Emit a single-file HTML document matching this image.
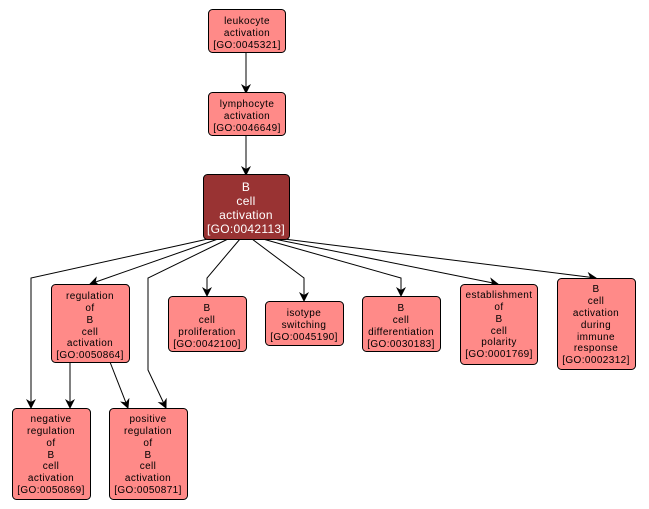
<!DOCTYPE html>
<html><head><meta charset="utf-8"><style>
html,body{margin:0;padding:0;background:#fff;}
svg{display:block;}
text{font-family:"Liberation Sans","DejaVu Sans",sans-serif;font-size:10px;fill:#000;text-anchor:middle;letter-spacing:0.4px;}
.w{fill:#fff;font-size:12px;letter-spacing:0.3px;}
</style></head><body>
<svg width="649" height="509" viewBox="0 0 649 509" xmlns="http://www.w3.org/2000/svg">
<defs><marker id="a" viewBox="0 0 10 10" refX="9" refY="5" markerWidth="10" markerHeight="10" markerUnits="userSpaceOnUse" orient="auto"><path d="M0,0 L10,5 L0,10 L3,5 z" fill="#000"/></marker></defs>
<g fill="none" stroke="#000" stroke-width="1" marker-end="url(#a)">
<line x1="246" y1="52" x2="246" y2="93"/>
<line x1="246" y1="135" x2="246" y2="175"/>
<polyline points="208,239 31,278 31,408"/>
<polyline points="218,239 90,284"/>
<polyline points="228,239 148,278 148,370 166,408"/>
<polyline points="240,239 207,278 207,296"/>
<polyline points="252,239 304,278 304,301"/>
<polyline points="263,239 401,278 401,296"/>
<polyline points="274,239 498,284"/>
<polyline points="284,239 596,278"/>
<line x1="70" y1="362" x2="70" y2="408"/>
<line x1="110" y1="362" x2="128" y2="408"/>
</g>
<g stroke="#000" stroke-width="1" fill="#ff8a88">
<rect x="208.5" y="9.5" width="77" height="43" rx="4"/>
<rect x="208.5" y="92.5" width="77" height="43" rx="4"/>
<rect x="203.5" y="174.5" width="86" height="65" rx="4" fill="#993333"/>
<rect x="51.5" y="284.5" width="78" height="78" rx="4"/>
<rect x="168.5" y="296.5" width="78" height="55" rx="4"/>
<rect x="265.5" y="301.5" width="78" height="44" rx="4"/>
<rect x="362.5" y="296.5" width="78" height="55" rx="4"/>
<rect x="460.5" y="284.5" width="77" height="80" rx="4"/>
<rect x="557.5" y="278.5" width="78" height="91" rx="4"/>
<rect x="12.5" y="408.5" width="78" height="91" rx="4"/>
<rect x="109.5" y="408.5" width="78" height="91" rx="4"/>
</g>
<text x="247" y="24">leukocyte</text><text x="247" y="36">activation</text><text x="247" y="48">[GO:0045321]</text>
<text x="247" y="107">lymphocyte</text><text x="247" y="119">activation</text><text x="247" y="131">[GO:0046649]</text>
<text class="w" x="246" y="191">B</text><text class="w" x="246" y="205">cell</text><text class="w" x="246" y="219">activation</text><text class="w" x="246" y="233">[GO:0042113]</text>
<text x="90" y="299">regulation</text><text x="90" y="311">of</text><text x="90" y="323">B</text><text x="90" y="335">cell</text><text x="90" y="346">activation</text><text x="90" y="358">[GO:0050864]</text>
<text x="207" y="311">B</text><text x="207" y="323">cell</text><text x="207" y="335">proliferation</text><text x="207" y="347">[GO:0042100]</text>
<text x="304" y="316">isotype</text><text x="304" y="328">switching</text><text x="304" y="340">[GO:0045190]</text>
<text x="401" y="311">B</text><text x="401" y="323">cell</text><text x="401" y="335">differentiation</text><text x="401" y="347">[GO:0030183]</text>
<text x="499" y="298">establishment</text><text x="499" y="310">of</text><text x="499" y="322">B</text><text x="499" y="334">cell</text><text x="499" y="345">polarity</text><text x="499" y="357">[GO:0001769]</text>
<text x="596" y="292">B</text><text x="596" y="304">cell</text><text x="596" y="316">activation</text><text x="596" y="328">during</text><text x="596" y="340">immune</text><text x="596" y="351">response</text><text x="596" y="363">[GO:0002312]</text>
<text x="51" y="422">negative</text><text x="51" y="434">regulation</text><text x="51" y="446">of</text><text x="51" y="458">B</text><text x="51" y="469">cell</text><text x="51" y="481">activation</text><text x="51" y="493">[GO:0050869]</text>
<text x="148" y="422">positive</text><text x="148" y="434">regulation</text><text x="148" y="446">of</text><text x="148" y="458">B</text><text x="148" y="469">cell</text><text x="148" y="481">activation</text><text x="148" y="493">[GO:0050871]</text>
</svg>
</body></html>
